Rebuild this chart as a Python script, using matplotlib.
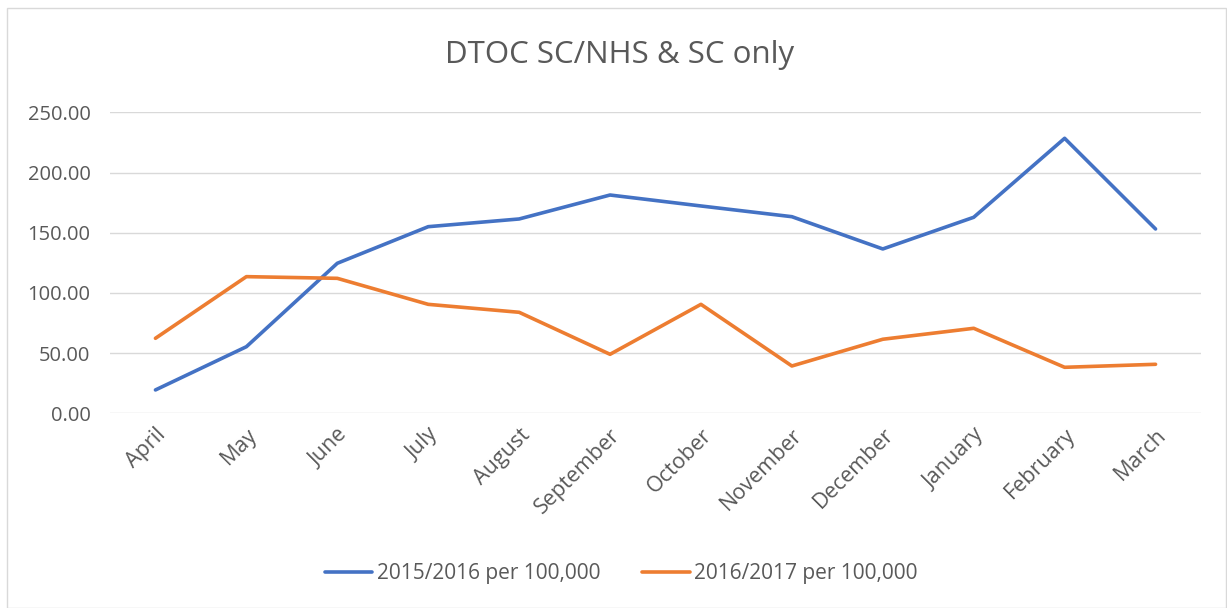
import matplotlib
matplotlib.use("Agg")
import matplotlib.pyplot as plt
from matplotlib.patches import Rectangle

months = ["April", "May", "June", "July", "August", "September", "October",
          "November", "December", "January", "February", "March"]
series_2015 = [19.4, 55.3, 124.6, 155.0, 161.4, 181.3, 172.2, 163.3, 136.5, 162.8, 228.4, 153.1]
series_2016 = [62.3, 113.5, 112.1, 90.5, 83.9, 49.0, 90.5, 39.3, 61.5, 70.6, 38.2, 40.7]
labels = ["2015/2016 per 100,000", "2016/2017 per 100,000"]
yticks = [0, 50, 100, 150, 200, 250]

plt.rcParams['font.family'] = ['Open Sans', 'DejaVu Sans']
grey = "#595959"

fig = plt.figure(figsize=(12.27, 6.08), dpi=100)
fig.patches.append(Rectangle((7/1227, 0.0), 1 - 8/1227, 1 - 8/608, transform=fig.transFigure,
                             fill=False, edgecolor="#D9D9D9", linewidth=1.0))
ax = fig.add_axes([110/1227, 1 - 413.3/608, (1201-110)/1227, (413.3-112.3)/608])

x = list(range(len(months)))
ax.plot(x, series_2015, color="#4472C4", linewidth=2.6, solid_capstyle="round", label=labels[0])
ax.plot(x, series_2016, color="#ED7D31", linewidth=2.6, solid_capstyle="round", label=labels[1])

ax.set_xlim(-0.5, len(months) - 0.5)
ax.set_ylim(0, 250)
ax.set_yticks(yticks)
ax.set_yticklabels([f"{v:.2f}" for v in yticks], color=grey, fontsize=14.5)
ax.set_xticks(x)
ax.set_xticklabels(months, rotation=45, ha="right", rotation_mode="anchor", color=grey, fontsize=15.5)
ax.tick_params(axis="y", length=0, pad=14)
ax.tick_params(axis="x", length=0, pad=8)
ax.grid(axis="y", color="#D9D9D9", linewidth=1.0)
ax.set_axisbelow(True)
for s in ax.spines.values():
    s.set_visible(False)

fig.text(620/1227, 1 - 55/608, "DTOC SC/NHS & SC only", ha="center", va="center",
         color=grey, fontsize=22.5)

fig.legend(loc="center", bbox_to_anchor=(621/1227, 1 - 574/608), ncol=2, frameon=False,
           fontsize=15, labelcolor=grey, handlelength=2.3, handletextpad=0.2, columnspacing=2.0)

fig.savefig("out.png", dpi=100, facecolor="white")
